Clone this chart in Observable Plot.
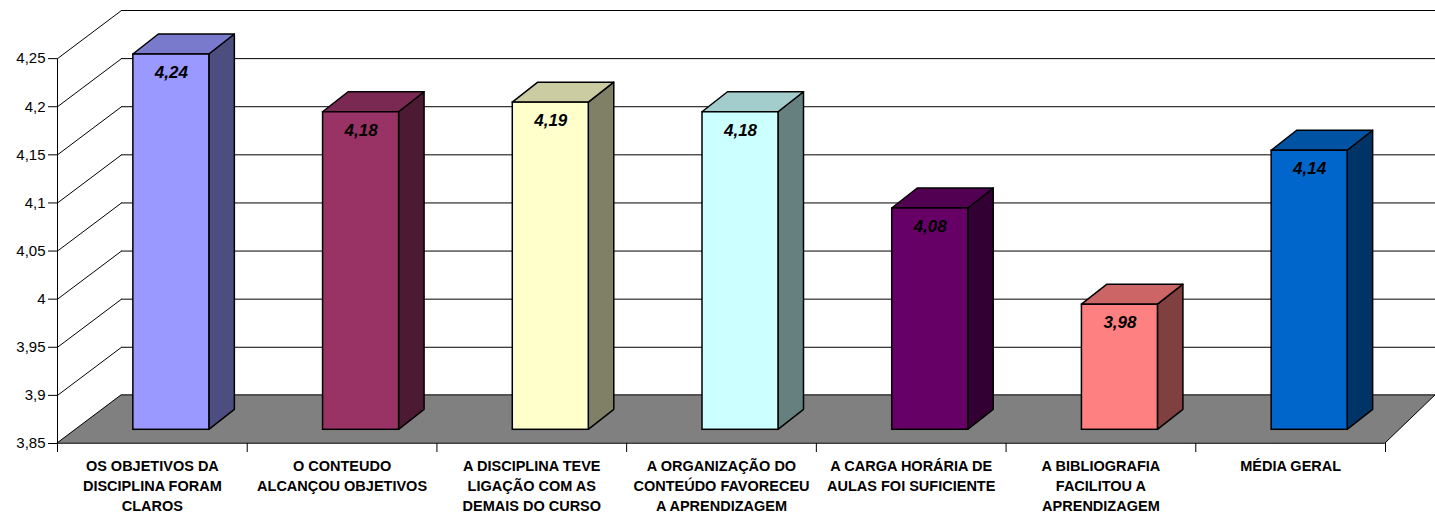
<!DOCTYPE html>
<html><head><meta charset="utf-8">
<script src="https://cdn.jsdelivr.net/npm/d3@7"></script>
<script src="https://cdn.jsdelivr.net/npm/@observablehq/plot@0.6"></script>
<style>html,body{margin:0;padding:0;background:#fff;overflow:hidden}</style>
</head><body><div id="chart"></div>
<script>
// ---- data ----
const categories = [
  "OS OBJETIVOS DA DISCIPLINA FORAM CLAROS",
  "O CONTEUDO ALCANÇOU OBJETIVOS",
  "A DISCIPLINA TEVE LIGAÇÃO COM AS DEMAIS DO CURSO",
  "A ORGANIZAÇÃO DO CONTEÚDO FAVORECEU A APRENDIZAGEM",
  "A CARGA HORÁRIA DE AULAS FOI SUFICIENTE",
  "A BIBLIOGRAFIA FACILITOU A APRENDIZAGEM",
  "MÉDIA GERAL"
];
const tickLabels = [
  "OS OBJETIVOS DA\nDISCIPLINA FORAM\nCLAROS",
  "O CONTEUDO\nALCANÇOU OBJETIVOS",
  "A DISCIPLINA TEVE\nLIGAÇÃO COM AS\nDEMAIS DO CURSO",
  "A ORGANIZAÇÃO DO\nCONTEÚDO FAVORECEU\nA APRENDIZAGEM",
  "A CARGA HORÁRIA DE\nAULAS FOI SUFICIENTE",
  "A BIBLIOGRAFIA\nFACILITOU A\nAPRENDIZAGEM",
  "MÉDIA GERAL"
];
const values = [4.24, 4.18, 4.19, 4.18, 4.08, 3.98, 4.14];
const yTicks = [3.85, 3.9, 3.95, 4, 4.05, 4.1, 4.15, 4.2, 4.25];

// ---- styles ----
const frontColors = ["#9999FF","#993366","#FFFFCC","#CCFFFF","#660066","#FF8080","#0066CC"];
const sideColors  = ["#4D4D80","#4D1A33","#808066","#668080","#330033","#804040","#003366"];
const topColors   = ["#7A7ACC","#7A2952","#CCCCA3","#A3CCCC","#520052","#CC6666","#0052A3"];

// ---- layout ----
const W = 1435, H = 515, mL = 57, mR = 50, mT = 10, mB = 72;
const n = categories.length;
const yMin = yTicks[0], yStep = yTicks[1] - yTicks[0];
const yMax = yTicks[yTicks.length - 1] + yStep;
const kx = (W - mL - mR) / n;
const ky = (H - mT - mB) / (yMax - yMin);
const px2x = p => p / kx, px2y = p => p / ky;

const floorDx = px2x(64), floorDy = yStep;
const backRight = px2x(W - mL);
const offX = px2x(19), offY = px2y(13.7);
const barW = px2x(76);
const depX = px2x(25.5), depY = px2y(20);

const fmtTick = d => String(Math.round(d * 100) / 100).replace(".", ",");
const fmtVal = d => d.toFixed(2).replace(".", ",");

const bars = categories.map((c, i) => {
  const xl = i + 0.5 + offX - barW / 2, xr = xl + barW;
  return {i, c, v: values[i], xl, xr, y0: yMin + offY, y1: values[i] + offY,
          front: frontColors[i], side: sideColors[i], top: topColors[i]};
});
const sides = bars.flatMap(b => [
  {i: b.i, x: b.xr, y1: b.y0, y2: b.y1, fill: b.side},
  {i: b.i, x: b.xr + depX, y1: b.y0 + depY, y2: b.y1 + depY, fill: b.side}
]);
const tops = bars.flatMap(b => [
  {i: b.i, y: b.y1, x1: b.xl, x2: b.xr, fill: b.top},
  {i: b.i, y: b.y1 + depY, x1: b.xl + depX, x2: b.xr + depX, fill: b.top}
]);
const floor = [
  {y: yMin, x1: 0, x2: n},
  {y: yMin + floorDy, x1: floorDx, x2: backRight}
];

const chart = Plot.plot({
  width: W, height: H,
  marginLeft: mL, marginRight: mR, marginTop: mT, marginBottom: mB,
  x: {type: "linear", domain: [0, n]},
  y: {domain: [yMin, yMax]},
  color: {type: "identity"},
  style: {fontFamily: "'Liberation Sans', Arial, sans-serif", background: "#fff", overflow: "hidden", color: "#000"},
  marks: [
    Plot.ruleY(yTicks, {y: d => d + floorDy, x1: floorDx, x2: backRight, stroke: "#000", strokeWidth: 1}),
    Plot.link(yTicks, {x1: 0, y1: d => d, x2: floorDx, y2: d => d + floorDy, stroke: "#000", strokeWidth: 1}),
    Plot.areaX(floor, {y: "y", x1: "x1", x2: "x2", fill: "#808080", stroke: "#000", strokeWidth: 1}),
    Plot.ruleX([0], {y1: yMin, y2: yTicks[yTicks.length - 1], stroke: "#000", strokeWidth: 1}),
    Plot.axisY({ticks: yTicks, tickSize: 9, tickPadding: 3, tickFormat: fmtTick, fontSize: 15, stroke: "#000"}),
    Plot.axisX({ticks: d3.range(n + 1), tickSize: 9, tickFormat: () => "", stroke: "#000"}),
    Plot.areaY(sides, {x: "x", y1: "y1", y2: "y2", z: "i", fill: "fill", stroke: "#000", strokeWidth: 1.5, strokeLinejoin: "round"}),
    Plot.areaX(tops, {y: "y", x1: "x1", x2: "x2", z: "i", fill: "fill", stroke: "#000", strokeWidth: 1.5, strokeLinejoin: "round"}),
    Plot.rect(bars, {x1: "xl", x2: "xr", y1: "y0", y2: "y1", fill: "front", stroke: "#000", strokeWidth: 1.5}),
    Plot.text(bars, {x: b => (b.xl + b.xr) / 2, y: "y1", dy: 18, text: b => fmtVal(b.v),
      fontSize: 17, fontWeight: "bold", fontStyle: "italic", fill: "#000"}),
    Plot.text(tickLabels, {x: (d, i) => i + 0.5, frameAnchor: "bottom", lineAnchor: "top", dy: 13,
      lineHeight: 1.38, fontSize: 14.5, fontWeight: "bold", text: d => d, fill: "#000"})
  ]
});
document.getElementById("chart").appendChild(chart);
</script>
</body></html>
